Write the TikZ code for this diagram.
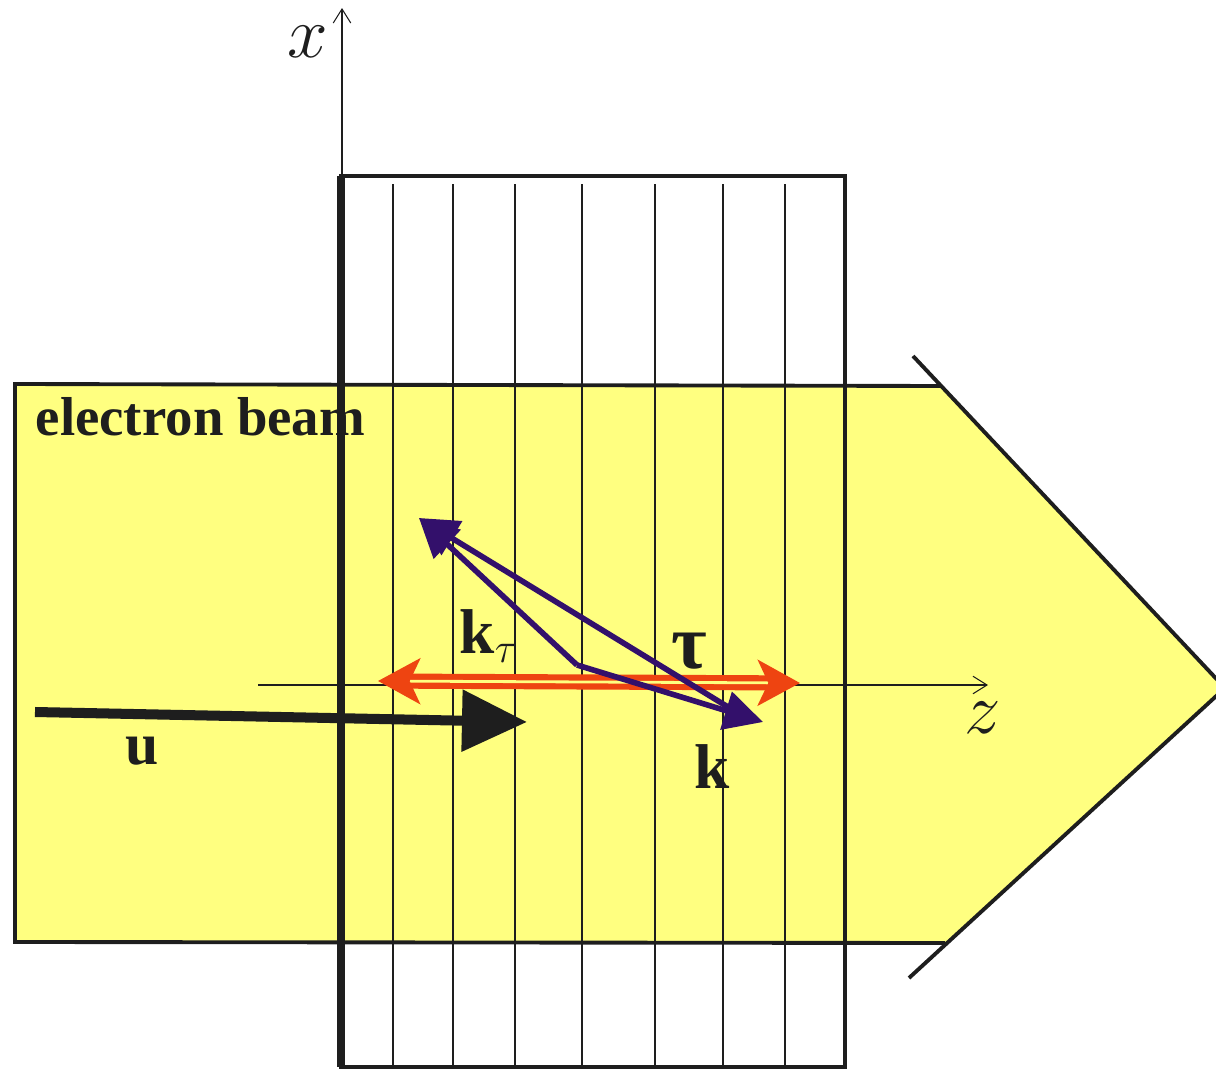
\documentclass[tikz,border=0pt]{standalone}
\usepackage{fontspec}
\setmainfont{Liberation Serif}
\usepackage{tikz}
\usetikzlibrary{arrows.meta,positioning}
\definecolor{beamyellow}{HTML}{FFFF80}
\definecolor{vecorange}{HTML}{EE4411}
\definecolor{vecpurple}{HTML}{33106B}
\definecolor{ink}{HTML}{1E1E1E}

\begin{document}
\begin{tikzpicture}[x=0.1mm, y=-0.1mm,
    beamedge/.style={draw=ink, line width=1.1pt},
    gridline/.style={draw=ink, line width=0.3pt},
    gratingbox/.style={draw=ink, line width=1.4pt},
    axisline/.style={draw=ink, line width=0.3pt, -{Straight Barb[length=4pt,width=5pt]}},
    purplevec/.style={draw=vecpurple, line width=1.6pt, -{Triangle[length=11pt,width=11pt]}},
    orangevec/.style={draw=vecorange, line width=1.75pt, double=beamyellow, double distance=0.8pt,
        {Stealth[length=12pt,width=13pt,inset=3pt]}-{Stealth[length=12pt,width=13pt,inset=3pt]}},
    velvec/.style={draw=ink, line width=2.85pt, -{Triangle[length=18.5pt,width=17pt]}},
    lbl/.style={inner sep=0pt, anchor=base west, text=ink}
]
    \useasboundingbox (0,0) rectangle (1216,1070);

    % Electron beam
    \fill[beamyellow] (15,384) -- (942,386) -- (1225,688) -- (945,943) -- (15,942) -- cycle;
    \draw[beamedge] (942,386) -- (15,384) -- (15,942) -- (945,943);
    \draw[beamedge] (913,356) -- (1225,688);
    \draw[beamedge] (909,978) -- (1225,688);

    % Grating
    \foreach \gx in {393,453,515,582,655,723,785}
        \draw[gridline] (\gx,184) -- (\gx,1067);
    \draw[gratingbox] (341,176) rectangle (845,1067);
    \draw[ink, line width=2.2pt] (341,176) -- (341,1067);

    % Axes
    \coordinate (xorig) at (342,176);
    \coordinate (xtip) at (342,8);
    \coordinate (zorig) at (258,685);
    \coordinate (ztip) at (988,685);
    \draw[axisline] (xorig) -- (xtip);
    \draw[axisline] (zorig) -- (ztip);
    \node[lbl, font=\fontsize{22}{24}\selectfont] (xlbl) at (287,58) {$x$};
    \node[lbl, font=\fontsize{22}{24}\selectfont] (zlbl) at (964,733) {$z$};

    \node[lbl, font=\fontsize{15.6}{18}\selectfont\bfseries] (beamlbl) at (35,436) {electron beam};

    % Velocity
    \coordinate (ustart) at (35,712);
    \coordinate (uend) at (527,722);
    \draw[velvec] (ustart) -- (uend);
    \node[lbl, font=\fontsize{17}{20}\selectfont\bfseries] (ulbl) at (125,764) {u};

    % Grating vector
    \coordinate (tleft) at (378,681);
    \coordinate (tright) at (800,683);
    \draw[orangevec] (tleft) -- (tright);

    % Wave vectors
    \coordinate (korig) at (577,665);
    \coordinate (ktip) at (763,722);
    \coordinate (kttip) at (419,518);
    \coordinate (taustart) at (728,707);
    \draw[purplevec] (korig) -- (kttip);
    \draw[purplevec] (korig) -- (ktip);
    \draw[purplevec] (taustart) -- (kttip);

    \node[lbl, font=\fontsize{18}{20}\selectfont\bfseries] (ktlbl) at (459,653) {k$_\tau$};
    \node[lbl, font=\fontsize{22}{24}\selectfont\bfseries] (taulbl) at (671,668) {τ};
    \node[lbl, font=\fontsize{18}{20}\selectfont\bfseries] (klbl) at (694,788) {k};
\end{tikzpicture}
\end{document}
